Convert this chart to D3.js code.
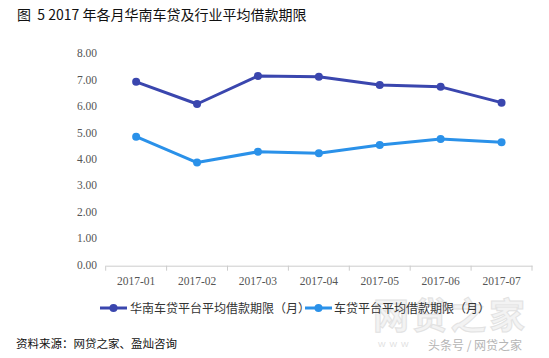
<!DOCTYPE html>
<html><head><meta charset="utf-8">
<script src="https://cdn.jsdelivr.net/npm/d3@7"></script>
<style>body{margin:0;background:#fff}svg{display:block}</style>
</head><body><svg id="c" width="549" height="358"></svg>
<script>
const categories = ["2017-01","2017-02","2017-03","2017-04","2017-05","2017-06","2017-07"];
const seriesNames = ["华南车贷平台平均借款期限（月）","车贷平台平均借款期限（月）"];
const southChina = [6.92,6.08,7.14,7.11,6.80,6.73,6.13];
const industry = [4.84,3.86,4.27,4.21,4.53,4.75,4.63];
const yTicks = [0,1,2,3,4,5,6,7,8];
const colors = ["#3A46AE","#2A91E9"];

const svg = d3.select("#c");
const x = d3.scaleBand().domain(categories).range([105.7,532]);
const y = d3.scaleLinear().domain([0,8]).range([264.5,53.3]);

// watermark (behind)
svg.append("text").attr("x",373).attr("y",329).attr("font-family","Noto Sans CJK SC, sans-serif")
  .attr("font-size",36).attr("font-weight","bold").attr("fill","#f3f3f3").attr("stroke","#e2e2e2").attr("stroke-width",1)
  .attr("textLength",152).text("网贷之家");
svg.append("text").attr("x",378).attr("y",347).attr("font-family","Liberation Sans, sans-serif")
  .attr("font-size",8).attr("fill","#e0e0e0").attr("letter-spacing",4).text("WWW");
svg.append("text").attr("x",428).attr("y",350).attr("font-family","Noto Sans CJK SC, sans-serif")
  .attr("font-size",12).attr("fill","#b5b5b5").text("头条号 / 网贷之家");

svg.append("text").attr("x",17).attr("y",20).attr("font-family","Noto Sans CJK SC, sans-serif")
  .attr("font-size",14).attr("fill","#111").attr("xml:space","preserve").text("图  5 2017 年各月华南车贷及行业平均借款期限");

// y labels
svg.append("g").selectAll("text").data(yTicks).join("text")
  .attr("x",97).attr("y",d=>y(d)+4).attr("text-anchor","end")
  .attr("font-family","Liberation Serif, serif").attr("font-size",11.5).attr("fill","#555")
  .text(d=>d3.format(".2f")(d));

// x axis
const xa = svg.append("g").attr("transform","translate(0,265.7)")
  .call(d3.axisBottom(x).tickSize(0).tickPadding(11));
xa.select(".domain").attr("stroke","#ccc");
xa.selectAll("text").attr("font-family","Liberation Serif, serif").attr("font-size",11.5).attr("fill","#555");
const edges = categories.map(c=>x(c)).concat([x.range()[1]]);
xa.selectAll(".edge").data(edges).join("line").attr("class","edge")
  .attr("x1",d=>d).attr("x2",d=>d).attr("y1",0).attr("y2",5).attr("stroke","#ccc");

const line = d3.line().x((d,i)=>x(categories[i])+x.bandwidth()/2).y(d=>y(d));
[southChina, industry].forEach((s,k)=>{
  svg.append("path").datum(s).attr("d",line).attr("fill","none")
    .attr("stroke",colors[k]).attr("stroke-width",3).attr("stroke-linejoin","round");
  svg.append("g").selectAll("circle").data(s).join("circle")
    .attr("cx",(d,i)=>x(categories[i])+x.bandwidth()/2).attr("cy",d=>y(d)).attr("r",4)
    .attr("fill",colors[k]);
});

// legend
const lg = [{x0:100,tx:130},{x0:305,tx:334}];
lg.forEach((p,k)=>{
  svg.append("line").attr("x1",p.x0).attr("x2",p.x0+27).attr("y1",308).attr("y2",308)
    .attr("stroke",colors[k]).attr("stroke-width",3);
  svg.append("circle").attr("cx",p.x0+13.5).attr("cy",308).attr("r",4).attr("fill",colors[k]);
  svg.append("text").attr("x",p.tx).attr("y",312.5).attr("font-family","Noto Sans CJK SC, sans-serif")
    .attr("font-size",12).attr("fill","#333").text(seriesNames[k]);
});

svg.append("text").attr("x",16).attr("y",348).attr("font-family","Noto Sans CJK SC, sans-serif")
  .attr("font-size",11.5).attr("fill","#111").text("资料来源：网贷之家、盈灿咨询");
</script></body></html>
